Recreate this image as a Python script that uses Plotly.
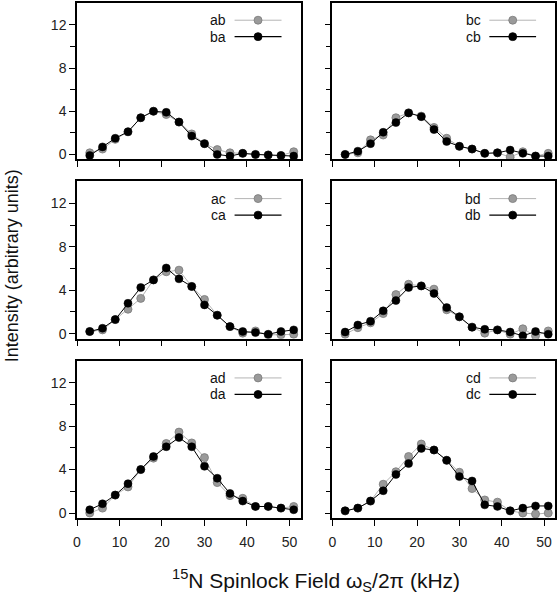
import plotly.graph_objects as go
from plotly.subplots import make_subplots

# ---------------- data ----------------
field_khz = [3, 6, 9, 12, 15, 18, 21, 24, 27, 30, 33, 36, 39, 42, 45, 48, 51]

ab = [0.15, 0.5, 1.4, 2.1, 3.4, 4.0, 3.7, 3.0, 1.9, 1.0, 0.45, 0.15, 0.1, 0.0, -0.05, -0.1, 0.25]
ba = [-0.1, 0.7, 1.5, 2.1, 3.4, 4.0, 3.9, 3.0, 1.7, 1.0, 0.0, -0.15, 0.1, 0.0, -0.05, -0.1, -0.15]

bc = [0.0, 0.15, 1.35, 1.8, 3.4, 3.85, 3.55, 2.5, 1.5, 0.75, 0.5, 0.1, 0.15, -0.25, 0.25, -0.15, 0.1]
cb = [0.0, 0.3, 1.0, 2.05, 2.95, 3.85, 3.5, 2.3, 1.2, 0.75, 0.5, 0.1, 0.15, 0.4, 0.1, -0.15, -0.15]

ac = [0.2, 0.35, 1.3, 2.25, 3.25, 4.95, 5.7, 5.85, 4.35, 3.15, 1.7, 0.65, 0.05, 0.25, -0.1, -0.1, -0.05]
ca = [0.2, 0.5, 1.3, 2.8, 4.25, 4.95, 6.05, 5.05, 4.35, 2.65, 1.7, 0.65, 0.2, 0.1, -0.05, 0.2, 0.35]

bd = [-0.05, 0.55, 1.0, 1.85, 3.6, 4.55, 4.4, 4.1, 2.2, 1.55, 0.6, 0.05, 0.35, -0.05, 0.45, -0.2, 0.25]
db = [0.15, 0.8, 1.15, 2.1, 3.05, 4.25, 4.4, 3.7, 2.4, 1.55, 0.6, 0.4, 0.35, 0.15, -0.2, 0.2, -0.05]

ad = [0.0, 0.45, 1.65, 2.4, 4.0, 5.05, 6.4, 7.45, 6.45, 5.1, 2.8, 1.6, 1.35, 0.6, 0.6, 0.45, 0.6]
da = [0.3, 0.85, 1.65, 2.7, 4.0, 5.2, 6.1, 6.95, 6.1, 4.3, 3.2, 1.8, 1.1, 0.6, 0.6, 0.45, 0.3]

cd = [0.2, 0.45, 1.1, 2.65, 3.8, 5.2, 6.35, 5.8, 4.85, 3.75, 2.25, 1.2, 1.0, 0.2, 0.0, -0.1, 0.0]
dc = [0.2, 0.45, 1.1, 2.05, 3.55, 4.55, 5.95, 5.8, 4.85, 3.35, 2.95, 0.75, 0.6, 0.2, 0.45, 0.65, 0.65]

panels = [
    ("ab", ab, "ba", ba),
    ("bc", bc, "cb", cb),
    ("ac", ac, "ca", ca),
    ("bd", bd, "db", db),
    ("ad", ad, "da", da),
    ("cd", cd, "dc", dc),
]

y_ticks = [0, 4, 8, 12]
x_ticks = [0, 10, 20, 30, 40, 50]

# ---------------- style ----------------
FONT = "Arial, Liberation Sans, Helvetica, sans-serif"
GRAY_LINE = "#b4b4b4"
GRAY_FILL = "#9a9a9a"
GRAY_EDGE = "#7a7a7a"
BLACK = "#000000"
MS = 8

W, H = 558, 599
ML, MR, MT, MB = 77, 2, 1, 81

fig = make_subplots(rows=3, cols=2)

x_dom = [[0.0, 0.4676], [0.5344, 1.0]]
y_dom = [[0.6963, 1.0], [0.3482, 0.6538], [0.0, 0.3056]]

for i, (n1, v1, n2, v2) in enumerate(panels):
    r, c = i // 2 + 1, i % 2 + 1
    fig.add_trace(go.Scatter(
        x=field_khz, y=v1, mode="lines+markers", name=n1,
        line=dict(color=GRAY_LINE, width=1),
        marker=dict(size=MS, color=GRAY_FILL, line=dict(color=GRAY_EDGE, width=0.8)),
        showlegend=False), row=r, col=c)
    fig.add_trace(go.Scatter(
        x=field_khz, y=v2, mode="lines+markers", name=n2,
        line=dict(color=BLACK, width=1),
        marker=dict(size=MS, color=BLACK, line=dict(color=BLACK, width=0.5)),
        showlegend=False), row=r, col=c)

    ax = "" if i == 0 else str(i + 1)
    xref = f"x{ax} domain"
    yref = f"y{ax} domain"
    # pseudo-legend (text left of sample)
    pw = (W - ML - MR) * (x_dom[c - 1][1] - x_dom[c - 1][0])
    ph = (H - MT - MB) * (y_dom[r - 1][1] - y_dom[r - 1][0])
    for (name, lc, fc, ec, lw), yy in zip(
            [(n1, GRAY_LINE, GRAY_FILL, GRAY_EDGE, 1), (n2, BLACK, BLACK, BLACK, 1.2)],
            [0.89, 0.785]):
        fig.add_annotation(x=0.67, y=yy, xref=xref, yref=yref, text=name,
                           showarrow=False, xanchor="right", yanchor="middle",
                           borderpad=0,
                           font=dict(family=FONT, size=14, color="#111"))
        fig.add_shape(type="line", xref=xref, yref=yref, x0=0.705, x1=0.915,
                      y0=yy, y1=yy, line=dict(color=lc, width=lw))
        rx = (MS / 2) / pw
        ry = (MS / 2) / ph
        fig.add_shape(type="circle", xref=xref, yref=yref,
                      x0=0.81 - rx, x1=0.81 + rx, y0=yy - ry, y1=yy + ry,
                      fillcolor=fc, line=dict(color=ec, width=0.8))

    fig.update_xaxes(
        row=r, col=c, domain=x_dom[c - 1], range=[0, 52.6],
        tickvals=x_ticks, ticks="outside", ticklen=6, tickwidth=1.2, tickcolor="black",
        showticklabels=(r == 3), showline=True, linecolor="black", linewidth=1.5,
        mirror=True, showgrid=False, zeroline=False, ticklabelstandoff=4,
        tickfont=dict(family=FONT, size=14, color="#222"))
    fig.update_yaxes(
        row=r, col=c, domain=y_dom[r - 1], range=[-0.46, 14.03],
        tickvals=y_ticks, ticks="outside", ticklen=6, tickwidth=1.2, tickcolor="black",
        minor=dict(tickvals=[2, 6, 10], ticks="outside", ticklen=5, tickcolor="black", tickwidth=1.2),
        showticklabels=(c == 1), showline=True, linecolor="black", linewidth=1.5,
        mirror=True, showgrid=False, zeroline=False, ticklabelstandoff=0,
        tickfont=dict(family=FONT, size=14, color="#222"))

fig.add_annotation(
    x=(12 - ML) / (W - ML - MR), y=0.489, xref="paper", yref="paper",
    xanchor="center", yanchor="middle",
    text="Intensity (arbitrary units)", textangle=-90, showarrow=False,
    font=dict(family=FONT, size=18, color="#111"))

fig.add_annotation(
    x=0.5, y=-0.122, xref="paper", yref="paper", xanchor="center", yanchor="middle",
    text="<sup>15</sup>N Spinlock Field ω<sub>S</sub>/2π (kHz)", showarrow=False,
    font=dict(family=FONT, size=21, color="#111"))

fig.update_layout(
    width=W, height=H, margin=dict(l=ML, r=MR, t=MT, b=MB),
    paper_bgcolor="white", plot_bgcolor="white", showlegend=False,
    font=dict(family=FONT))

fig.write_html("out.html", config={"displayModeBar": False},
               post_script="document.body.style.margin='0px';document.body.style.overflow='hidden';")
